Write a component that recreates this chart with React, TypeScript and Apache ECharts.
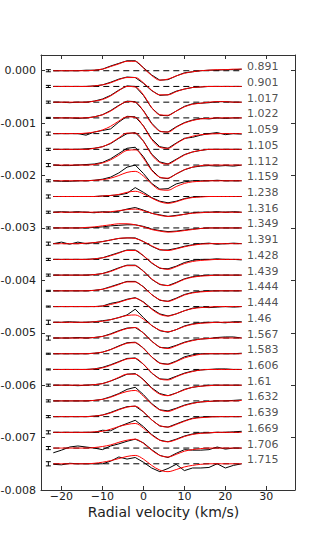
import React, { useEffect, useRef } from "react";
import * as echarts from "echarts";

const velocityGrid = [-22, -20, -18, -16, -14, -12, -10, -8, -6, -4, -2, 0, 2, 4, 6, 8, 10, 12, 14, 16, 18, 20, 22, 24];
const spectrumLabels = ["0.891", "0.901", "1.017", "1.022", "1.059", "1.105", "1.112", "1.159", "1.238", "1.316", "1.349", "1.391", "1.428", "1.439", "1.444", "1.444", "1.46", "1.567", "1.583", "1.606", "1.61", "1.632", "1.639", "1.669", "1.706", "1.715"];
const baselineStep = 0.0003;
const profileUnit = 1e-5;
const errorBarVelocity = -23.2;
const labelVelocity = 25.3;
const errorHalfHeights = [2, 2, 2, 1, 3, 2, 3, 2, 3, 2, 2, 3, 2, 2, 1, 1, 4, 4, 1, 1, 2, 2, 2, 3, 3, 4];
const xTicks = [-20, -10, 0, 10, 20, 30];
const yTicks = [0, -0.001, -0.002, -0.003, -0.004, -0.005, -0.006, -0.007, -0.008];
const xAxisTitle = "Radial velocity (km/s)";

const observedProfiles = [
  [0, 0, 0, 0, 1, 1, 3, 9, 14, 19, 19, 6, -8, -18, -17, -10, -4, -2, 0, 1, 1, 2, 2, 3],
  [0, 0, 0, 0, 0, 1, 3, 8, 14, 18, 17, 6, -8, -17, -16, -9, -5, -2, -1, 0, 0, 0, 0, 0],
  [0, 0, -1, 0, 0, 2, 6, 13, 23, 31, 30, 13, -11, -25, -26, -17, -8, -3, -2, -1, 1, 1, 0, 0],
  [0, 0, 0, -1, 0, 2, 6, 14, 24, 32, 31, 14, -10, -26, -27, -17, -9, -4, -1, -2, 0, -1, 0, 0],
  [0, 0, 0, 0, -3, 3, 6, 9, 22, 33, 32, 15, -10, -25, -28, -18, -9, -7, -3, 0, 2, -2, 0, -1],
  [0, 0, 0, 0, 1, 2, 5, 11, 21, 30, 32, 16, -9, -24, -28, -19, -10, -5, -2, 0, 0, 0, 0, 0],
  [0, -1, -1, 0, 1, 2, 5, 12, 22, 32, 34, 16, -9, -24, -26, -17, -9, -4, -2, -1, -2, -1, -2, 0],
  [0, -1, -1, 0, 0, 1, 3, 7, 15, 26, 30, 14, -5, -16, -15, -6, -2, 0, 0, 0, 1, 0, 0, 0],
  [0, 0, 0, 0, 0, 0, 1, 2, 3, 6, 17, 8, -2, -9, -12, -9, -4, -1, 0, 0, 0, 0, 0, 0],
  [0, 1, 0, 1, 0, -1, 1, 0, 2, 6, 9, 4, -2, -5, -8, -6, -4, -1, 0, 0, 1, 0, 1, 0],
  [0, 0, 0, 0, 0, 1, 2, 4, 5, 6, 6, 3, -2, -5, -7, -6, -4, -2, -1, 0, 0, 0, 0, 0],
  [0, 3, -1, 3, 0, 2, 4, 7, 10, 11, 11, 4, -5, -12, -12, -9, -5, -2, 0, 1, -1, 0, 1, 0],
  [0, 0, 0, 0, 0, 1, 3, 8, 13, 18, 18, 7, -7, -17, -18, -13, -6, -2, 0, 0, 1, 0, 0, -1],
  [0, 0, 0, 0, 0, 1, 3, 8, 14, 19, 19, 8, -8, -18, -20, -14, -7, -3, -1, 0, 0, 0, 0, 0],
  [0, 0, 0, 0, 0, 1, 3, 8, 13, 18, 18, 8, -7, -18, -20, -14, -7, -3, -1, 0, 0, 0, 0, 0],
  [0, 0, 0, 0, 0, 0, 1, 6, 9, 14, 17, 9, -4, -14, -18, -14, -8, -3, -1, -2, -1, 0, -1, 0],
  [0, 0, 1, 0, 0, 1, 3, 5, 9, 14, 25, 9, -6, -16, -19, -14, -7, -3, -1, 0, 0, -1, 1, 1],
  [0, 0, 0, 1, 0, 1, 3, 8, 14, 19, 20, 10, -6, -18, -19, -14, -8, -4, -2, -1, 1, 2, 2, 0],
  [0, 0, 0, 0, 0, 1, 3, 8, 15, 21, 22, 11, -6, -18, -20, -14, -6, -2, 0, 0, 0, 0, 0, 1],
  [0, 0, 0, 0, 0, 1, 4, 9, 15, 21, 22, 10, -7, -18, -19, -13, -7, -3, -1, 0, 1, 1, 0, 0],
  [0, 0, 0, -1, 0, 1, 3, 8, 14, 21, 22, 11, -5, -16, -20, -15, -8, -4, -2, 0, 0, 0, 0, 0],
  [0, 0, 0, 0, 0, 1, 3, 8, 14, 22, 26, 12, -5, -17, -19, -14, -8, -4, -2, -1, 0, 0, 1, 2],
  [0, 0, 0, 0, 0, 1, 3, 8, 14, 19, 20, 9, -6, -18, -20, -14, -8, -3, -1, 0, 0, 0, 0, 0],
  [0, 0, 0, 0, 0, 0, 4, 3, 11, 17, 23, 11, -4, -15, -18, -13, -7, -3, -1, -1, 0, 0, 1, 2],
  [-9, -4, 2, 4, 2, 0, -3, 4, 8, 13, 17, 10, -3, -14, -18, -10, -3, -4, -4, -3, 2, -2, 0, 0],
  [-1, -2, 1, 0, 0, 0, 0, 5, 13, 9, 12, 3, -8, -15, -9, -1, -13, -8, -8, -7, 0, -8, -3, 0],
];

const modelProfiles = [
  [0, 0, 0, 0, 0, 1, 3, 8, 13, 18, 18, 5, -9, -18, -16, -10, -5, -2, 0, 1, 2, 2, 3, 3],
  [0, 0, 0, 0, 0, 1, 3, 7, 13, 17, 17, 7, -7, -16, -16, -10, -5, -2, -1, 0, 0, 0, 0, 0],
  [0, 0, 0, 0, 0, 2, 5, 12, 22, 30, 29, 14, -10, -24, -25, -17, -9, -4, -2, 0, 1, 1, 0, 0],
  [0, 0, 0, 0, 0, 2, 6, 13, 23, 31, 30, 13, -11, -25, -27, -18, -10, -5, -2, -1, 0, 0, 0, 0],
  [0, 0, 0, 0, 1, 3, 7, 14, 24, 32, 31, 14, -11, -26, -28, -19, -10, -5, -2, -1, 0, 0, 0, 0],
  [0, 0, 0, 0, 0, 2, 5, 12, 22, 31, 31, 15, -10, -25, -28, -20, -11, -5, -2, 0, 0, 0, 0, 0],
  [0, 0, 0, 0, 0, 1, 4, 10, 19, 28, 29, 13, -10, -23, -25, -17, -9, -4, -1, 0, 0, 0, 0, 0],
  [0, 0, 0, 0, 0, 1, 2, 5, 10, 16, 18, 9, -6, -17, -18, -11, -5, -2, -1, 0, 0, 0, 0, 0],
  [0, 0, 0, 0, 0, 0, 1, 2, 4, 8, 10, 5, -3, -10, -13, -10, -5, -2, -1, 0, 0, 0, 0, 0],
  [0, 0, 0, 0, 0, 0, 0, 1, 3, 5, 6, 3, -2, -6, -8, -7, -4, -2, -1, 0, 0, 0, 0, 0],
  [0, 0, 0, 0, 1, 2, 4, 6, 8, 8, 6, 2, -3, -6, -8, -7, -5, -3, -1, 0, 0, 0, 0, 0],
  [0, 0, 0, 0, 1, 2, 4, 7, 10, 11, 10, 4, -4, -11, -13, -10, -6, -3, -1, 0, 0, 0, 0, 0],
  [0, 0, 0, 0, 0, 1, 3, 7, 12, 17, 17, 7, -6, -16, -19, -14, -8, -4, -2, -1, 0, 0, 0, 0],
  [0, 0, 0, 0, 0, 1, 3, 7, 13, 18, 18, 7, -7, -17, -20, -15, -8, -4, -2, -1, 0, 0, 0, 0],
  [0, 0, 0, 0, 0, 1, 3, 7, 12, 17, 17, 7, -7, -17, -20, -15, -8, -4, -2, -1, 0, 0, 0, 0],
  [0, 0, 0, 0, 0, 0, 1, 4, 8, 13, 16, 8, -5, -15, -18, -14, -8, -4, -2, -1, 0, 0, 0, 0],
  [0, 0, 0, 0, 0, 1, 2, 5, 9, 13, 14, 6, -6, -15, -18, -14, -8, -4, -2, -1, 0, 0, 0, 0],
  [0, 0, 0, 0, 0, 1, 3, 7, 13, 18, 20, 9, -6, -17, -20, -15, -9, -5, -2, -1, 0, 0, 0, 0],
  [0, 0, 0, 0, 0, 1, 3, 8, 14, 20, 21, 10, -6, -18, -20, -15, -8, -4, -1, 0, 0, 0, 0, 0],
  [0, 0, 0, 0, 0, 1, 3, 8, 14, 20, 21, 10, -6, -18, -20, -14, -8, -4, -1, 0, 0, 0, 0, 0],
  [0, 0, 0, 0, 0, 1, 3, 8, 15, 21, 21, 10, -6, -17, -20, -15, -9, -4, -2, -1, 0, 0, 0, 0],
  [0, 0, 0, 0, 0, 1, 3, 7, 13, 18, 20, 9, -6, -17, -20, -15, -9, -5, -2, -1, 0, 0, 0, 1],
  [0, 0, 0, 0, 0, 1, 3, 7, 13, 18, 20, 9, -6, -17, -20, -15, -9, -4, -2, -1, 0, 0, 0, 0],
  [0, 0, 0, 0, 0, 1, 2, 6, 11, 15, 17, 8, -5, -15, -18, -14, -8, -4, -2, -1, 0, 0, 0, 0],
  [0, 0, 0, 0, 0, 1, 3, 6, 11, 15, 17, 9, -4, -14, -17, -12, -6, -3, -1, 0, 0, 0, 0, 0],
  [0, 0, 0, 0, 0, 1, 3, 6, 10, 14, 16, 9, -3, -12, -15, -11, -6, -3, -1, 0, 0, 0, 0, 0],
];

const FONT = "DejaVu Sans";
const TEXT_COLOR = "#222";
const FRAME_COLOR = "#333";

function fmtY(v: number): string {
  if (Math.abs(v) < 1e-12) return "0.000";
  return (v < 0 ? "-" : "") + Math.abs(v).toFixed(3);
}
function fmtX(v: number): string {
  return (v < 0 ? "\u2212" : "") + Math.abs(v).toString();
}

export default function App() {
  const ref = useRef<HTMLDivElement>(null);
  useEffect(() => {
    if (!ref.current) return;
    const chart = echarts.init(ref.current, undefined, { renderer: "svg" });
    const series: any[] = [];
    spectrumLabels.forEach((_, k) => {
      const base = -k * baselineStep;
      series.push({
        type: "line",
        data: [
          [velocityGrid[0], base],
          [velocityGrid[velocityGrid.length - 1], base],
        ],
        symbol: "none",
        silent: true,
        lineStyle: { color: "#000", width: 1, type: [6, 4] },
        z: 1,
      });
    });
    spectrumLabels.forEach((_, k) => {
      const base = -k * baselineStep;
      series.push({
        type: "line",
        data: velocityGrid.map((v, i) => [v, base + observedProfiles[k][i] * profileUnit]),
        symbol: "none",
        silent: true,
        lineStyle: { color: "#000", width: 1 },
        z: 2,
      });
      series.push({
        type: "line",
        data: velocityGrid.map((v, i) => [v, base + modelProfiles[k][i] * profileUnit]),
        symbol: "none",
        smooth: 0.35,
        silent: true,
        lineStyle: { color: "#ff0000", width: 1 },
        z: 3,
      });
    });
    series.push({
      type: "custom",
      silent: true,
      data: spectrumLabels.map((_, k) => [errorBarVelocity, -k * baselineStep, errorHalfHeights[k] * profileUnit]),
      encode: { x: 0, y: 1 },
      renderItem: (params: any, api: any) => {
        const x = api.value(0);
        const y = api.value(1);
        const e = api.value(2);
        const top = api.coord([x, y + e]);
        const bot = api.coord([x, y - e]);
        const cw = 2.5;
        const st = { stroke: "#000", lineWidth: 1 };
        return {
          type: "group",
          children: [
            { type: "line", shape: { x1: top[0], y1: top[1], x2: bot[0], y2: bot[1] }, style: st },
            { type: "line", shape: { x1: top[0] - cw, y1: top[1], x2: top[0] + cw, y2: top[1] }, style: st },
            { type: "line", shape: { x1: bot[0] - cw, y1: bot[1], x2: bot[0] + cw, y2: bot[1] }, style: st },
          ],
        };
      },
      z: 4,
    });
    series.push({
      type: "scatter",
      silent: true,
      symbolSize: 0,
      data: spectrumLabels.map((l, k) => ({ value: [labelVelocity, -k * baselineStep], name: l })),
      label: {
        show: true,
        position: "right",
        distance: 0,
        offset: [0, -4],
        formatter: (p: any) => p.name,
        fontSize: 11,
        fontFamily: FONT,
        color: TEXT_COLOR,
      },
      z: 5,
    });

    const axisCommon = {
      type: "value",
      splitLine: { show: false },
      axisLine: { show: true, onZero: false, lineStyle: { color: FRAME_COLOR, width: 1 } },
    };

    chart.setOption({
      animation: false,
      backgroundColor: "#fff",
      textStyle: { fontFamily: FONT },
      grid: { left: 41, right: 32, top: 55, bottom: 55, containLabel: false, outerBoundsMode: "none" },
      graphic: [
        {
          type: "text",
          left: "center",
          top: 505,
          style: { text: xAxisTitle, fontSize: 14, fontFamily: FONT, fill: TEXT_COLOR },
          silent: true,
        },
      ],
      xAxis: [
        {
          ...axisCommon,
          position: "bottom",
          min: -25,
          max: 37,
          axisTick: { show: true, inside: true, length: 4, customValues: xTicks, lineStyle: { color: FRAME_COLOR } },
          axisLabel: { show: true, customValues: xTicks, margin: 1, fontSize: 11, fontFamily: FONT, color: TEXT_COLOR, formatter: fmtX },
        },
        {
          ...axisCommon,
          position: "top",
          min: -25,
          max: 37,
          axisTick: { show: true, inside: true, length: 4, customValues: xTicks, lineStyle: { color: FRAME_COLOR } },
          axisLabel: { show: false },
        },
      ],
      yAxis: [
        {
          ...axisCommon,
          position: "left",
          min: -0.008,
          max: 0.0003,
          axisTick: { show: true, inside: true, length: 4, customValues: yTicks, lineStyle: { color: FRAME_COLOR } },
          axisLabel: { show: true, customValues: yTicks, margin: 5, fontSize: 11, fontFamily: FONT, color: TEXT_COLOR, formatter: fmtY },
        },
        {
          ...axisCommon,
          position: "right",
          min: -0.008,
          max: 0.0003,
          axisTick: { show: true, inside: true, length: 4, customValues: yTicks, lineStyle: { color: FRAME_COLOR } },
          axisLabel: { show: false },
        },
      ],
      series,
    });
    return () => chart.dispose();
  }, []);
  return <div ref={ref} style={{ position: "fixed", left: 0, top: 0, width: 327, height: 545, background: "#fff" }} />;
}
